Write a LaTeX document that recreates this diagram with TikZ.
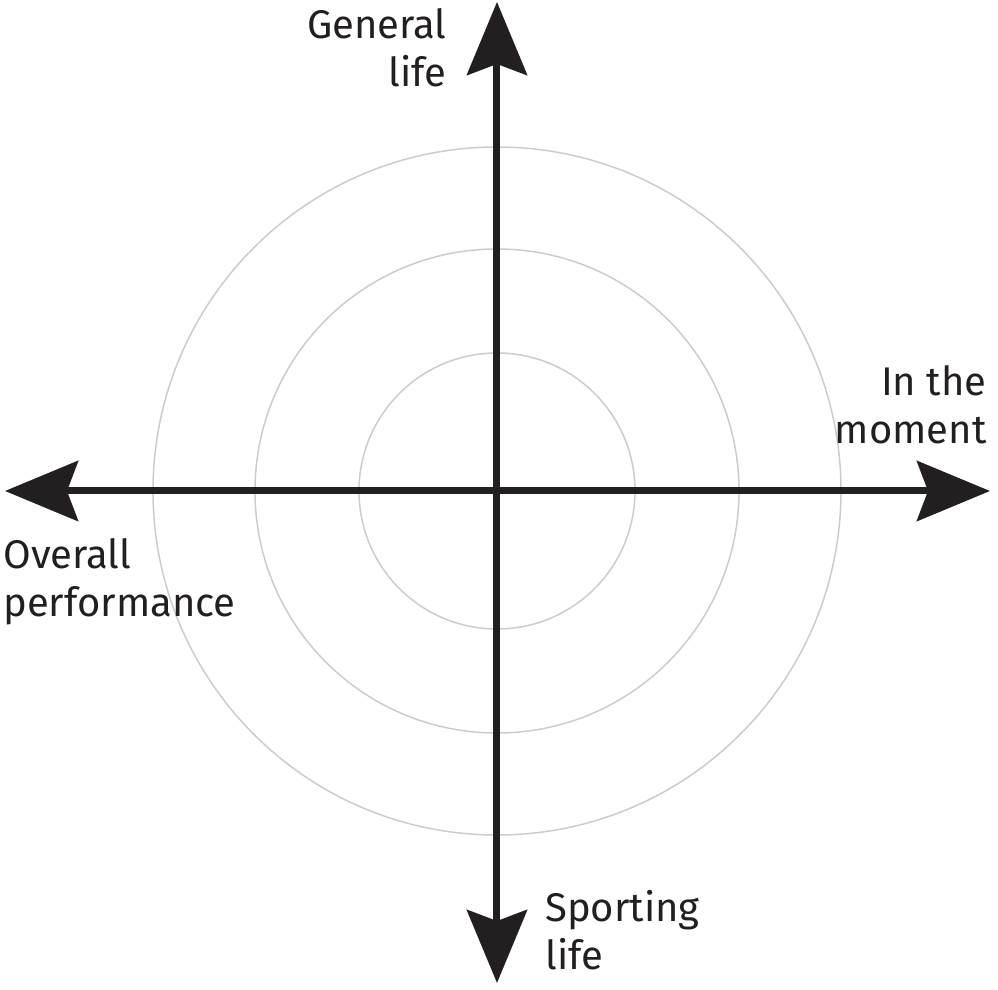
\documentclass[tikz,border=0pt]{standalone}
\usepackage{fontspec}
\setmainfont{Fira Sans}
\usetikzlibrary{positioning, arrows.meta}
\definecolor{ink}{HTML}{231F20}
\definecolor{ringgrey}{HTML}{CCCCCC}

\begin{document}
\begin{tikzpicture}[x=0.5pt, y=0.5pt,
		axis/.style={line width=3.5pt, draw=ink, {Stealth[length=36.5pt, width=30pt, inset=5.5pt]}-{Stealth[length=36.5pt, width=30pt, inset=5.5pt]}},
		ring/.style={draw=ringgrey, line width=0.75pt},
		lab/.style={inner sep=0pt, text=ink, font=\fontsize{20}{24}\selectfont}]
		\useasboundingbox (-497,-499) rectangle (501,491);

		% Define axis ends
		\coordinate (o) at (0,0);
		\coordinate (left) at (-492,0);
		\coordinate (right) at (493,0);
		\coordinate (top) at (0,489);
		\coordinate (bottom) at (0,-492);

		% Rings round the centre
		\foreach \r in {138,242,344}
			\draw[ring] (o) circle (\r);

		% Axes
		\draw[axis] (left) -- (right);
		\draw[axis] (bottom) -- (top);

		% Labels
		\node[lab, anchor=north east, align=right] (general) at (-50,483) {General\\life};
		\node[lab, anchor=north east, align=right] (moment) at (490,126) {In the\\moment};
		\node[lab, anchor=north west, align=left] (overall) at (-494,-47) {Overall\\performance};
		\node[lab, anchor=north west, align=left] (sporting) at (48,-399) {Sporting\\life};
	\end{tikzpicture}
\end{document}
